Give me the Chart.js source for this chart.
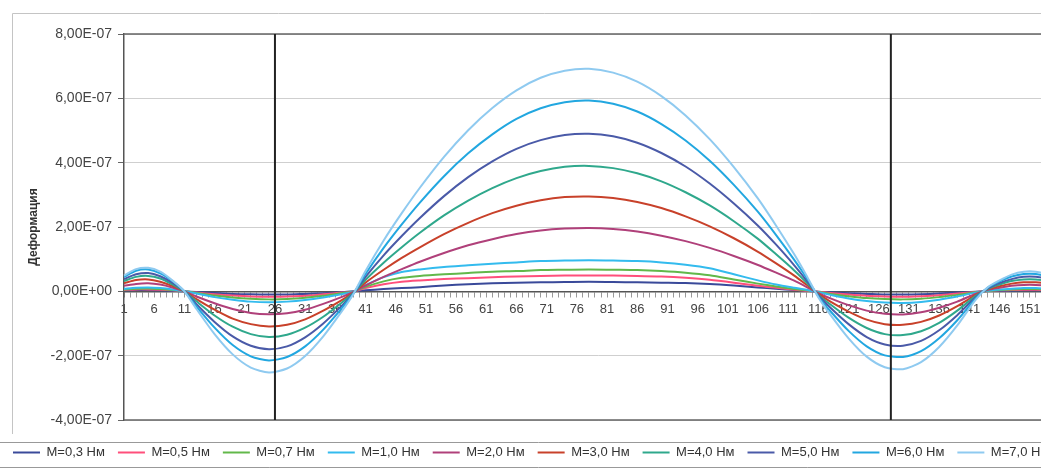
<!DOCTYPE html>
<html>
<head>
<meta charset="utf-8">
<script src="https://cdn.jsdelivr.net/npm/chart.js@4.4.1/dist/chart.umd.min.js"></script>
<style>
  html, body { margin: 0; padding: 0; background: #fff; overflow: hidden; }
</style>
</head>
<body>
<canvas id="deformChart" width="1077" height="469"></canvas>
<script>
// values are in units of 1E-07
const UNIT = 1e-7;

const categories = Array.from({ length: 158 }, (_, i) => i + 1);
const sampleCats = [1, 3, 5, 7, 9, 11,
  13, 16, 19, 22, 25, 28, 31, 34, 37, 39,
  41, 44, 47, 50, 54, 58, 62, 66, 70, 74, 78, 82, 86, 90, 94, 98, 102, 106, 109, 112, 114,
  116, 118, 121, 124, 127, 130, 133, 136, 139, 142,
  144, 146, 148, 150, 152, 154, 156];

const seriesNames = ['M=0,3 Нм', 'M=0,5 Нм', 'M=0,7 Нм', 'M=1,0 Нм', 'M=2,0 Нм',
  'M=3,0 Нм', 'M=4,0 Нм', 'M=5,0 Нм', 'M=6,0 Нм', 'M=7,0 Нм'];
const seriesColors = ['#3a4a9a', '#ff4f7b', '#62b84a', '#33bbee', '#b0407a',
  '#c8412a', '#2fa88c', '#4a5aa8', '#22a7e0', '#8fcaf0'];

const m03 = [0.03, 0.04, 0.04, 0.03, 0.02, 0, -0.02, -0.05, -0.08, -0.09, -0.10, -0.10, -0.08, -0.06, -0.03, 0,
  0.03, 0.07, 0.10, 0.13, 0.18, 0.22, 0.25, 0.27, 0.28, 0.29, 0.30, 0.29, 0.28, 0.27, 0.26, 0.23, 0.18, 0.12, 0.08, 0.04, 0.02,
  -0.01, -0.03, -0.06, -0.08, -0.10, -0.10, -0.09, -0.07, -0.04, -0.01, 0.01, 0.02, 0.02, 0.03, 0.03, 0.02, 0.02];
const m05 = [0.04, 0.06, 0.06, 0.05, 0.03, 0, -0.04, -0.09, -0.13, -0.16, -0.17, -0.16, -0.14, -0.09, -0.04, -0.01,
  0.10, 0.22, 0.30, 0.34, 0.38, 0.41, 0.44, 0.46, 0.48, 0.49, 0.49, 0.49, 0.48, 0.46, 0.42, 0.36, 0.27, 0.17, 0.11, 0.05, 0.02,
  -0.01, -0.05, -0.10, -0.14, -0.16, -0.17, -0.15, -0.12, -0.07, -0.02, 0.01, 0.03, 0.04, 0.05, 0.05, 0.04, 0.03];
const m07 = [0.06, 0.08, 0.09, 0.07, 0.04, 0, -0.05, -0.13, -0.19, -0.23, -0.25, -0.24, -0.20, -0.14, -0.06, -0.01,
  0.14, 0.31, 0.42, 0.48, 0.53, 0.57, 0.61, 0.63, 0.66, 0.67, 0.68, 0.67, 0.66, 0.63, 0.58, 0.50, 0.37, 0.24, 0.15, 0.07, 0.03,
  -0.02, -0.08, -0.15, -0.21, -0.24, -0.25, -0.23, -0.18, -0.11, -0.03, 0.01, 0.04, 0.06, 0.07, 0.07, 0.06, 0.04];
const m10 = [0.08, 0.11, 0.12, 0.10, 0.06, 0, -0.07, -0.18, -0.26, -0.32, -0.34, -0.32, -0.27, -0.19, -0.09, -0.01,
  0.19, 0.44, 0.60, 0.68, 0.76, 0.81, 0.86, 0.90, 0.94, 0.96, 0.97, 0.96, 0.94, 0.90, 0.83, 0.72, 0.53, 0.34, 0.21, 0.11, 0.05,
  -0.03, -0.11, -0.22, -0.30, -0.35, -0.36, -0.33, -0.26, -0.16, -0.04, 0.02, 0.06, 0.08, 0.10, 0.10, 0.08, 0.06];
const m20 = [0.17, 0.23, 0.25, 0.21, 0.12, 0, -0.16, -0.37, -0.55, -0.67, -0.71, -0.68, -0.57, -0.39, -0.18, -0.02,
  0.18, 0.45, 0.69, 0.92, 1.19, 1.43, 1.62, 1.78, 1.89, 1.95, 1.97, 1.94, 1.86, 1.73, 1.56, 1.35, 1.10, 0.82, 0.58, 0.33, 0.14,
  -0.06, -0.22, -0.43, -0.60, -0.70, -0.72, -0.65, -0.51, -0.32, -0.08, 0.04, 0.11, 0.17, 0.20, 0.20, 0.17, 0.11];
const m30 = [0.25, 0.35, 0.37, 0.30, 0.17, 0, -0.24, -0.57, -0.85, -1.02, -1.09, -1.04, -0.87, -0.60, -0.28, -0.04,
  0.27, 0.67, 1.04, 1.37, 1.78, 2.13, 2.43, 2.66, 2.83, 2.93, 2.95, 2.90, 2.78, 2.59, 2.33, 2.02, 1.65, 1.23, 0.87, 0.49, 0.21,
  -0.08, -0.32, -0.63, -0.88, -1.02, -1.04, -0.95, -0.75, -0.46, -0.12, 0.06, 0.16, 0.24, 0.28, 0.28, 0.24, 0.16];
const m40 = [0.32, 0.45, 0.48, 0.40, 0.22, 0, -0.31, -0.75, -1.10, -1.33, -1.42, -1.35, -1.13, -0.79, -0.36, -0.05,
  0.36, 0.89, 1.37, 1.82, 2.36, 2.82, 3.21, 3.52, 3.74, 3.87, 3.90, 3.83, 3.67, 3.42, 3.08, 2.67, 2.18, 1.63, 1.15, 0.65, 0.28,
  -0.11, -0.41, -0.82, -1.14, -1.33, -1.36, -1.24, -0.98, -0.60, -0.15, 0.07, 0.21, 0.32, 0.37, 0.37, 0.32, 0.21];
const m50 = [0.38, 0.53, 0.57, 0.47, 0.27, 0, -0.40, -0.95, -1.40, -1.69, -1.80, -1.71, -1.43, -1.00, -0.46, -0.06,
  0.45, 1.12, 1.72, 2.28, 2.96, 3.55, 4.04, 4.43, 4.70, 4.86, 4.90, 4.82, 4.62, 4.30, 3.88, 3.35, 2.73, 2.04, 1.45, 0.81, 0.35,
  -0.13, -0.51, -1.02, -1.42, -1.65, -1.69, -1.54, -1.21, -0.74, -0.19, 0.09, 0.26, 0.38, 0.45, 0.45, 0.38, 0.26];
const m60 = [0.45, 0.64, 0.68, 0.56, 0.32, 0, -0.47, -1.13, -1.67, -2.02, -2.15, -2.04, -1.71, -1.19, -0.54, -0.07,
  0.54, 1.35, 2.08, 2.76, 3.58, 4.29, 4.88, 5.36, 5.69, 5.88, 5.93, 5.83, 5.59, 5.20, 4.69, 4.06, 3.31, 2.47, 1.75, 0.98, 0.43,
  -0.16, -0.62, -1.23, -1.71, -1.99, -2.04, -1.86, -1.46, -0.90, -0.23, 0.11, 0.31, 0.46, 0.54, 0.54, 0.46, 0.31];
const m70 = [0.49, 0.69, 0.73, 0.61, 0.34, 0, -0.55, -1.33, -1.96, -2.37, -2.52, -2.40, -2.01, -1.40, -0.64, -0.08,
  0.63, 1.58, 2.43, 3.22, 4.18, 5.01, 5.70, 6.25, 6.64, 6.86, 6.92, 6.80, 6.52, 6.07, 5.47, 4.73, 3.86, 2.88, 2.04, 1.15, 0.50,
  -0.19, -0.73, -1.46, -2.03, -2.36, -2.42, -2.20, -1.73, -1.06, -0.27, 0.12, 0.34, 0.52, 0.61, 0.61, 0.52, 0.34];

const seriesValues = [m03, m05, m07, m10, m20, m30, m40, m50, m60, m70];

// vertical marker lines (categories)
const markerCats = [26, 128];
const yMin = -4, yMax = 8, yStep = 2;

const FONT = "'Liberation Sans', Arial, sans-serif";

function toData(vals) {
  return categories.map(c => {
    const i = sampleCats.indexOf(c);
    return i < 0 ? null : vals[i] * UNIT;
  });
}

function sciLabel(v) {
  if (Math.abs(v) < 1e-12) return '0,00E+00';
  const parts = v.toExponential(2).split('e');
  const exp = parseInt(parts[1], 10);
  return parts[0].replace('.', ',') + 'E' + (exp < 0 ? '-' : '+') + String(Math.abs(exp)).padStart(2, '0');
}

const markerLines = {
  id: 'markerLines',
  afterDatasetsDraw(chart) {
    const { ctx, chartArea, scales } = chart;
    ctx.save();
    // plot frame top and bottom
    ctx.strokeStyle = '#666';
    ctx.lineWidth = 1.5;
    ctx.beginPath();
    ctx.moveTo(chartArea.left, chartArea.top);
    ctx.lineTo(chartArea.right + 20, chartArea.top);
    ctx.moveTo(chartArea.left, chartArea.bottom);
    ctx.lineTo(chartArea.right + 20, chartArea.bottom);
    ctx.stroke();
    ctx.strokeStyle = '#222';
    ctx.lineWidth = 2;
    markerCats.forEach(c => {
      const px = scales.x.getPixelForValue(categories.indexOf(c));
      ctx.beginPath();
      ctx.moveTo(px, chartArea.top);
      ctx.lineTo(px, chartArea.bottom);
      ctx.stroke();
    });
    ctx.restore();
  }
};

const frames = {
  id: 'frames',
  beforeDraw(chart) {
    const { ctx, width, legend } = chart;
    ctx.save();
    ctx.fillStyle = '#fff';
    ctx.fillRect(0, 0, width, chart.height);
    ctx.strokeStyle = '#c4c4c4';
    ctx.lineWidth = 1;
    ctx.beginPath();
    ctx.moveTo(12.5, legend.top + 14);
    ctx.lineTo(12.5, 13.5);
    ctx.lineTo(width, 13.5);
    ctx.stroke();
    ctx.strokeStyle = '#999';
    ctx.beginPath();
    ctx.moveTo(0, legend.top + 22.5);
    ctx.lineTo(width, legend.top + 22.5);
    ctx.moveTo(0, legend.bottom - 1.5);
    ctx.lineTo(width, legend.bottom - 1.5);
    ctx.stroke();
    ctx.restore();
  }
};

const ctx = document.getElementById('deformChart').getContext('2d');
const deformChart = new Chart(ctx, {
  type: 'line',
  data: {
    labels: categories,
    datasets: seriesValues.map((vals, i) => ({
      label: seriesNames[i],
      data: toData(vals),
      borderColor: seriesColors[i],
      backgroundColor: seriesColors[i],
      borderWidth: 2,
      pointRadius: 0,
      tension: 0.25,
      spanGaps: true,
      order: seriesValues.length - i
    }))
  },
  options: {
    responsive: false,
    animation: false,
    layout: { padding: { left: 0, top: 34, right: 5, bottom: 0 } },
    plugins: {
      tooltip: { enabled: false },
      legend: {
        position: 'bottom',
        align: 'start',
        title: { display: true, text: '', font: { size: 10, lineHeight: 1 }, padding: { top: 3, bottom: 0 } },
        labels: {
          usePointStyle: true,
          pointStyle: 'line',
          pointStyleWidth: 27,
          padding: 13,
          color: '#333',
          font: { family: FONT, size: 13 },
          sort: (a, b) => a.datasetIndex - b.datasetIndex
        }
      }
    },
    scales: {
      x: {
        type: 'category',
        position: { y: 0 },
        offset: false,
        grid: { drawOnChartArea: false, drawTicks: true, tickLength: 5, color: '#999' },
        border: { display: true, color: '#555', width: 1.5 },
        ticks: {
          autoSkip: false,
          maxRotation: 0,
          minRotation: 0,
          padding: 5,
          color: '#444',
          font: { family: FONT, size: 13 },
          callback: function (val) {
            const c = this.getLabelForValue(val);
            return (c - 1) % 5 === 0 ? String(c) : '';
          }
        }
      },
      y: {
        min: yMin * UNIT,
        max: yMax * UNIT,
        afterFit: scale => { scale.width = 124; },
        grid: { color: '#cfcfcf', tickLength: 6, tickColor: '#666' },
        border: { display: true, color: '#555', width: 1.5 },
        ticks: {
          stepSize: yStep * UNIT,
          padding: 6,
          color: '#444',
          font: { family: FONT, size: 14 },
          callback: v => sciLabel(v)
        },
        title: {
          display: true,
          text: 'Деформация',
          color: '#333',
          font: { family: FONT, size: 12, weight: 'bold' },
          padding: { top: 26, bottom: 0 }
        }
      }
    }
  },
  plugins: [frames, markerLines]
});
</script>
</body>
</html>
